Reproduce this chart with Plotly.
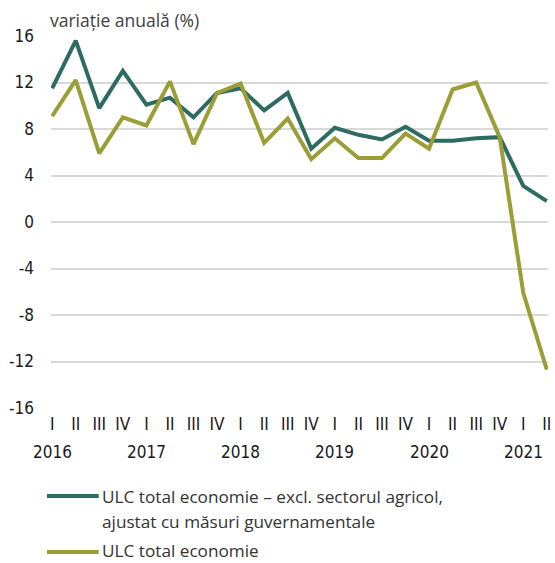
import plotly.graph_objects as go

quarters = ["I", "II", "III", "IV"] * 5 + ["I", "II"]
years = ["2016", "2017", "2018", "2019", "2020", "2021"]
y_ticks = [16, 12, 8, 4, 0, -4, -8, -12, -16]

ulc_adj = [11.5, 15.6, 9.8, 13.0, 10.1, 10.7, 9.0, 11.1, 11.5, 9.6, 11.1, 6.3,
           8.1, 7.5, 7.1, 8.2, 7.0, 7.0, 7.2, 7.3, 3.1, 1.8]
ulc_total = [9.1, 12.2, 5.9, 9.0, 8.3, 12.1, 6.7, 11.1, 11.9, 6.8, 8.9, 5.4,
             7.2, 5.5, 5.5, 7.6, 6.3, 11.4, 12.0, 7.3, -6.1, -12.7]

legend_lines_adj = ["ULC total economie – excl. sectorul agricol,", "ajustat cu măsuri guvernamentale"]
legend_lines_total = ["ULC total economie"]

TEAL = "#2e6b63"
OLIVE = "#9b9d37"
TICKFONT = dict(family="Liberation Sans Narrow, DejaVu Sans Condensed, sans-serif", size=17, color="#1a1a1a")
TEXTFONT = dict(family="Open Sans, sans-serif", size=17.2, color="#333333")

# plot area in pixels: x 51..551, y 36..408
PL, PR, PT, PB = 51, 551, 36, 408
def px(xp):
    return (xp - PL) / (PR - PL)
def py(yp):
    return (PB - yp) / (PB - PT)

x = list(range(len(quarters)))

fig = go.Figure()
fig.add_trace(go.Scatter(x=x, y=ulc_adj, mode="lines", name=" ".join(legend_lines_adj),
                         line=dict(color=TEAL, width=4), showlegend=False))
fig.add_trace(go.Scatter(x=x, y=ulc_total, mode="lines", name=legend_lines_total[0],
                         line=dict(color=OLIVE, width=4), showlegend=False))

for i, yr in enumerate(years):
    fig.add_annotation(x=i * 4, y=0, xref="x", yref="paper", text=yr,
                       showarrow=False, yanchor="top", xanchor="center",
                       yshift=-32, font=TICKFONT)

fig.add_annotation(x=0, y=1, xref="paper", yref="paper", text="variație anuală (%)",
                   showarrow=False, xanchor="left", yanchor="bottom", yshift=2,
                   xshift=-3, font=dict(family="Open Sans, sans-serif", size=17.5, color="#404040"))

# manual legend
legend_items = [(TEAL, legend_lines_adj, 496, 496), (OLIVE, legend_lines_total, 552, 550)]
for color, lines, ypix, ytext in legend_items:
    fig.add_shape(type="line", xref="paper", yref="paper",
                  x0=px(47), x1=px(99), y0=py(ypix), y1=py(ypix),
                  line=dict(color=color, width=4))
    for k, txt in enumerate(lines):
        fig.add_annotation(x=px(101), y=py(ytext + 25 * k), xref="paper", yref="paper",
                           text=txt, showarrow=False, xanchor="left", yanchor="middle",
                           borderpad=0, font=TEXTFONT)

fig.update_xaxes(range=[-0.05, 21.05], tickmode="array", tickvals=x, ticktext=quarters,
                 showgrid=False, zeroline=False, showline=False, ticks="",
                 tickfont=TICKFONT, ticklabelstandoff=4, tickangle=0)
fig.update_yaxes(range=[-16, 16], tickmode="array", tickvals=y_ticks,
                 ticktext=[str(v) for v in y_ticks],
                 showgrid=True, gridcolor="#d9d9d9", gridwidth=1.5, zeroline=False,
                 showline=False, ticks="", tickfont=TICKFONT, ticklabelstandoff=16)

fig.update_layout(
    width=555, height=563,
    margin=dict(l=PL, r=555 - PR, t=PT, b=563 - PB),
    plot_bgcolor="white", paper_bgcolor="white",
    showlegend=False,
)

fig.write_html("out.html")
